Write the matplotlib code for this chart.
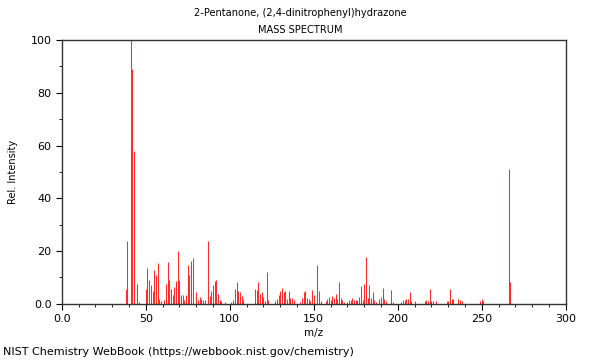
import matplotlib
matplotlib.use('Agg')
import matplotlib.pyplot as plt
from matplotlib.ticker import MultipleLocator, FuncFormatter

# m/z values and relative intensities
mz = [38, 39, 41, 42, 43, 45, 46, 50, 51, 52, 53, 54, 55, 56, 57, 58, 59,
      61, 62, 63, 64, 65, 66, 67, 68, 69, 70, 71, 72, 73, 74, 75, 76, 77, 78,
      80, 81, 82, 83, 84, 85, 87, 88, 89, 90, 91, 92, 93, 94, 95, 97,
      101, 102, 103, 104, 105, 106, 107, 108, 115, 116, 117, 118, 119, 120,
      121, 122, 123, 127, 128, 129, 130, 131, 132, 133, 134, 135, 136, 137, 138,
      142, 143, 144, 145, 146, 147, 148, 149, 150, 152, 153, 154,
      157, 158, 159, 160, 161, 162, 163, 164, 165, 166, 167, 168,
      170, 171, 172, 173, 174, 175, 176, 177, 178, 179, 180, 181, 182, 183,
      184, 185, 186, 187, 189, 190, 191, 192, 193, 196, 197,
      202, 203, 204, 205, 206, 207, 208, 210, 216, 217, 218, 219, 220, 221,
      223, 229, 230, 231, 232, 233, 236, 237, 238, 249, 250, 251, 266, 267]
intensity = [5.6, 24, 100, 89, 58, 7.4, 0.8, 5.7, 13.5, 9, 7, 4.7, 12.9, 11, 15.4, 1.9, 1,
             1.5, 7.7, 16, 9, 5.8, 3.4, 6.2, 8.7, 20, 9, 3.5, 3.5, 1.3, 3.4, 14.6, 11, 16.3, 17.3,
             4.3, 1.3, 2.5, 1.9, 1.4, 1.3, 23.9, 2.8, 4.7, 7, 8.8, 9, 3.8, 1.5, 1.1, 0.6,
             0.6, 1.6, 5.6, 8.3, 4.9, 4.5, 3, 1.5, 5.7, 5.2, 8.3, 3.8, 4.3, 2.5,
             1, 11.9, 1.4, 0.9, 1.9, 3.4, 4.9, 6, 4.5, 4.7, 1.9, 5, 2.3, 2.3, 1.4,
             0.8, 2.3, 4.3, 4.8, 2.4, 1.9, 1.1, 5.3, 3.2, 14.8, 5, 1,
             1.1, 2, 2.5, 1.6, 2.8, 2.3, 3.8, 1.9, 8.3, 2.1, 1.3, 0.8,
             0.8, 1.3, 1.3, 2.1, 1.3, 1.3, 1.3, 2.7, 6.7, 1.5, 7.4, 17.9, 2.4, 7,
             2.4, 4.5, 1.3, 0.8, 2, 2.7, 5.9, 1.9, 1, 5.4, 0.8,
             0.8, 1.4, 1.4, 2, 2, 4.5, 0.9, 1.1, 1.1, 1.6, 0.9, 5.6, 1.1, 1.1,
             0.9, 1.1, 0.9, 5.7, 1.9, 1.9, 1.9, 1.5, 0.9, 1, 1.9, 0.9, 51, 8.1]

fig = plt.figure(figsize=(6, 3.6), dpi=100)
ax = fig.add_axes([0.103, 0.156, 0.84, 0.733])

ax.vlines(mz, 0, intensity, colors='#ff2a2a', linewidth=0.75)

ax.set_xlim(0, 300)
ax.set_ylim(0, 100)
ax.xaxis.set_major_locator(MultipleLocator(50))
ax.xaxis.set_minor_locator(MultipleLocator(10))
ax.yaxis.set_major_locator(MultipleLocator(20))
ax.yaxis.set_minor_locator(MultipleLocator(10))
fmt = FuncFormatter(lambda v, p: '0.0' if v == 0 else f'{v:.0f}')
ax.xaxis.set_major_formatter(fmt)
ax.yaxis.set_major_formatter(fmt)
ax.tick_params(which='both', direction='out', labelsize=8, top=False, right=False)
ax.tick_params(which='major', length=4)
ax.tick_params(which='minor', length=2.5)
for s in ax.spines.values():
    s.set_color('#333333')
    s.set_linewidth(1)

ax.set_xlabel('m/z', fontsize=7.5, labelpad=3)
ax.set_ylabel('Rel. Intensity', fontsize=7, labelpad=9)

fig.text(0.5, 0.963, '2-Pentanone, (2,4-dinitrophenyl)hydrazone', ha='center', va='center', fontsize=7.1)
fig.text(0.5, 0.916, 'MASS SPECTRUM', ha='center', va='center', fontsize=7.1)
fig.text(0.005, 0.022, 'NIST Chemistry WebBook (https://webbook.nist.gov/chemistry)', ha='left', va='center', fontsize=8)

fig.savefig('out.png', dpi=100)
